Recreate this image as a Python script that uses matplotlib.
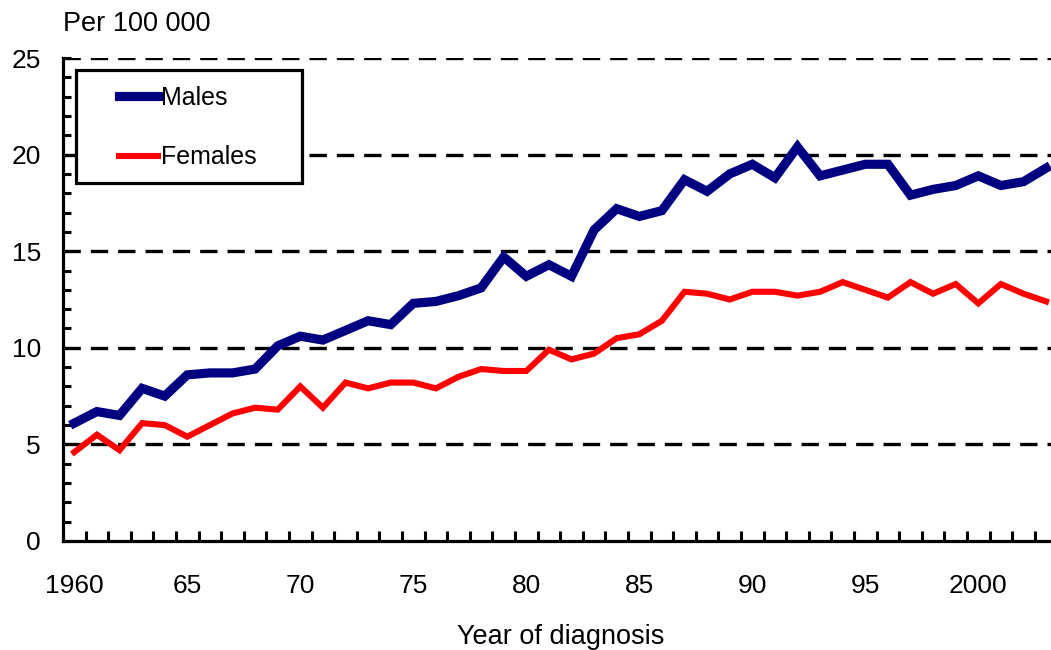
import matplotlib
matplotlib.use("Agg")
import matplotlib.pyplot as plt
from matplotlib.patches import Rectangle
from matplotlib.ticker import MultipleLocator, FixedLocator

years = list(range(1960, 2004))
males = [6.1, 6.7, 6.5, 7.9, 7.5, 8.6, 8.7, 8.7, 8.9, 10.1,
         10.6, 10.4, 10.9, 11.4, 11.2, 12.3, 12.4, 12.7, 13.1, 14.7,
         13.7, 14.3, 13.7, 16.1, 17.2, 16.8, 17.1, 18.7, 18.1, 19.0,
         19.5, 18.8, 20.4, 18.9, 19.2, 19.5, 19.5, 17.9, 18.2, 18.4,
         18.9, 18.4, 18.6, 19.3]
females = [4.6, 5.5, 4.7, 6.1, 6.0, 5.4, 6.0, 6.6, 6.9, 6.8,
           8.0, 6.9, 8.2, 7.9, 8.2, 8.2, 7.9, 8.5, 8.9, 8.8,
           8.8, 9.9, 9.4, 9.7, 10.5, 10.7, 11.4, 12.9, 12.8, 12.5,
           12.9, 12.9, 12.7, 12.9, 13.4, 13.0, 12.6, 13.4, 12.8, 13.3,
           12.3, 13.3, 12.8, 12.4]
major_years = [1960, 1965, 1970, 1975, 1980, 1985, 1990, 1995, 2000]
major_labels = ["1960", "65", "70", "75", "80", "85", "90", "95", "2000"]
series_names = ["Males", "Females"]

plt.rcParams['font.family'] = ['Liberation Sans', 'DejaVu Sans']

W, H = 1051, 650
fig = plt.figure(figsize=(W / 100, H / 100), dpi=100)
ax_left, ax_right = 63, 63 + 994.4
ax_bottom, ax_top = 541, 58
ax = fig.add_axes([ax_left / W, (H - ax_bottom) / H,
                   (ax_right - ax_left) / W, (ax_bottom - ax_top) / H])

ax.plot(years, males, color='#000080', lw=6.6, solid_joinstyle='miter',
        label=series_names[0], zorder=3)
ax.plot(years, females, color='#ff0000', lw=4.4, solid_joinstyle='miter',
        label=series_names[1], zorder=3)

ax.set_xlim(1959.5, 2003.5)
ax.set_ylim(0, 25)

for s in ['top', 'right']:
    ax.spines[s].set_visible(False)
for s in ['left', 'bottom']:
    ax.spines[s].set_linewidth(2.3)
    ax.spines[s].set_capstyle('projecting')

# grid
for yv in [5, 10, 15, 20, 25]:
    ax.axhline(yv, color='black', lw=2.4, ls=(0, (5.2, 3.0)), zorder=1)

# y ticks
ax.yaxis.set_major_locator(MultipleLocator(5))
ax.yaxis.set_minor_locator(MultipleLocator(1))
ax.tick_params(axis='y', which='both', direction='in', length=6, width=2.2,
               pad=16, labelsize=19)

# x ticks
ax.xaxis.set_major_locator(FixedLocator(major_years))
ax.set_xticklabels(major_labels)
ax.xaxis.set_minor_locator(FixedLocator([y + 0.5 for y in years]))
ax.tick_params(axis='x', which='major', length=0, pad=24, labelsize=19)
ax.tick_params(axis='x', which='minor', direction='in', length=7.5, width=2.2)

ax.set_xlabel("Year of diagnosis", fontsize=19.5)
ax.xaxis.set_label_coords(0.5, (ax_bottom - 637) / (ax_bottom - ax_top))
ax.xaxis.label.set_va('center')

fig.text(63 / W, 1 - 24 / H, "Per 100 000", fontsize=19.5, ha='left', va='center')

# legend frame
def ax_fx(px):
    return (px - ax_left) / (ax_right - ax_left)

def ax_fy(py):
    return (ax_bottom - py) / (ax_bottom - ax_top)

frame = Rectangle((ax_fx(76), ax_fy(183)), ax_fx(302) - ax_fx(76), ax_fy(70) - ax_fy(183),
                  transform=ax.transAxes, facecolor='white', edgecolor='black',
                  lw=2.3, zorder=4, clip_on=False)
ax.add_patch(frame)
leg = ax.legend(loc='upper left', bbox_to_anchor=(ax_fx(119), ax_fy(86)),
                frameon=False, borderpad=0, borderaxespad=0, handlelength=1.55,
                handletextpad=0.12, labelspacing=1.42, fontsize=18)
leg.set_zorder(5)

fig.savefig("out.png", dpi=100, facecolor='white')
